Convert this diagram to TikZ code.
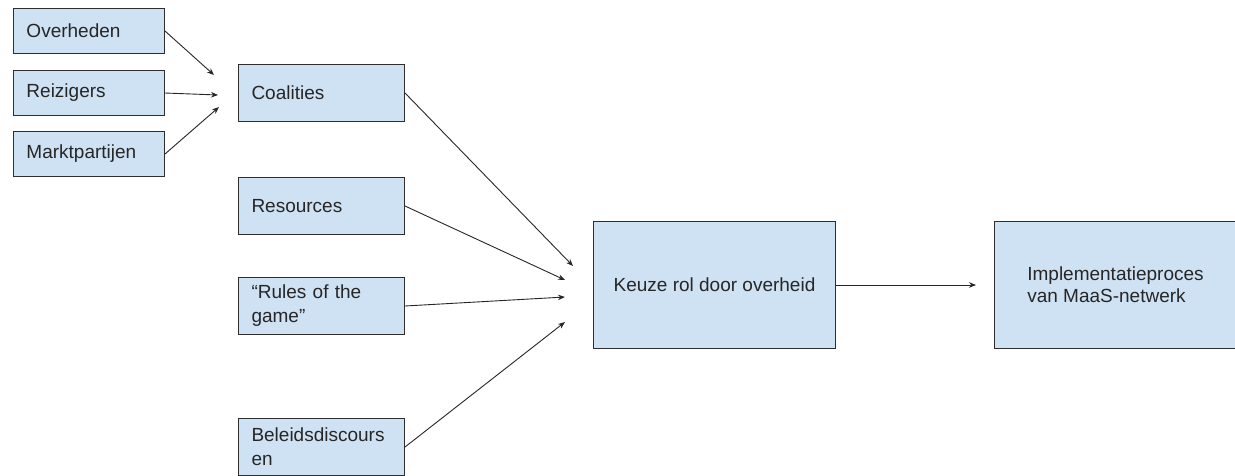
\documentclass[tikz,border=0pt]{standalone}
\usepackage{fontspec}
\setmainfont{Liberation Sans}
\usepackage{tikz}
\usetikzlibrary{positioning, arrows.meta}
\usepackage{xcolor}
\definecolor{boxblue}{HTML}{CFE2F3}
\definecolor{boxline}{HTML}{2E2E2E}
\tikzstyle{actor} = [rectangle, anchor=north west,
minimum width=151pt,
minimum height=45pt,
inner xsep=13pt,
text width=125pt,
align=left,
draw=boxline,
line width=1pt,
fill=boxblue]
\tikzstyle{factor} = [rectangle, anchor=north west,
minimum width=166pt,
minimum height=57pt,
inner xsep=13pt,
text width=140pt,
align=left,
draw=boxline,
line width=1pt,
fill=boxblue]
\tikzstyle{result} = [rectangle, anchor=north west,
minimum width=242pt,
minimum height=127pt,
align=center,
draw=boxline,
line width=1pt,
fill=boxblue]
\tikzstyle{arrow} = [line width=0.9pt, draw=black!85, -{Stealth[length=7pt,width=5.5pt]}]

\begin{document}
\begin{tikzpicture}[x=1pt, y=-1pt, font=\fontsize{19}{24}\selectfont, text=black!85]
        \useasboundingbox (0,0) rectangle (1235,475);

        \node (overheden) [actor] at (13,8) {Overheden};
        \node (reizigers) [actor] at (13,70) {Reizigers};
        \node (markt) [actor] at (13,131) {Marktpartijen};

        \node (coalities) [factor] at (238,64) {Coalities};
        \node (resources) [factor] at (238,177) {Resources};
        \node (rules) [factor] at (238,277) {``Rules of the\\game''};
        \node (discours) [factor] at (238,418) {Beleidsdiscours\\en};

        \node (keuze) [result] at (593,221) {Keuze rol door overheid};
        \node (impl) [result, align=left, font=\fontsize{19}{22}\selectfont,
              right=158pt of keuze.north east, anchor=north west] {Implementatieproces\\van MaaS-netwerk};

        \coordinate (c1) at (214,75);
        \coordinate (c2) at (218,95);
        \coordinate (c3) at (219,107);
        \coordinate (k1) at (573,266);
        \coordinate (k2) at (565,280);
        \coordinate (k3) at (565,297);
        \coordinate (k4) at (565,322);
        \coordinate (i1) at (976,285);

        \draw [arrow] (overheden.east) -- (c1);
        \draw [arrow] (reizigers.east) -- (c2);
        \draw [arrow] (markt.east) -- (c3);
        \draw [arrow] (coalities.east) -- (k1);
        \draw [arrow] (resources.east) -- (k2);
        \draw [arrow] (rules.east) -- (k3);
        \draw [arrow] (discours.east) -- (k4);
        \draw [arrow] (keuze.east) -- (i1);
    \end{tikzpicture}
\end{document}
